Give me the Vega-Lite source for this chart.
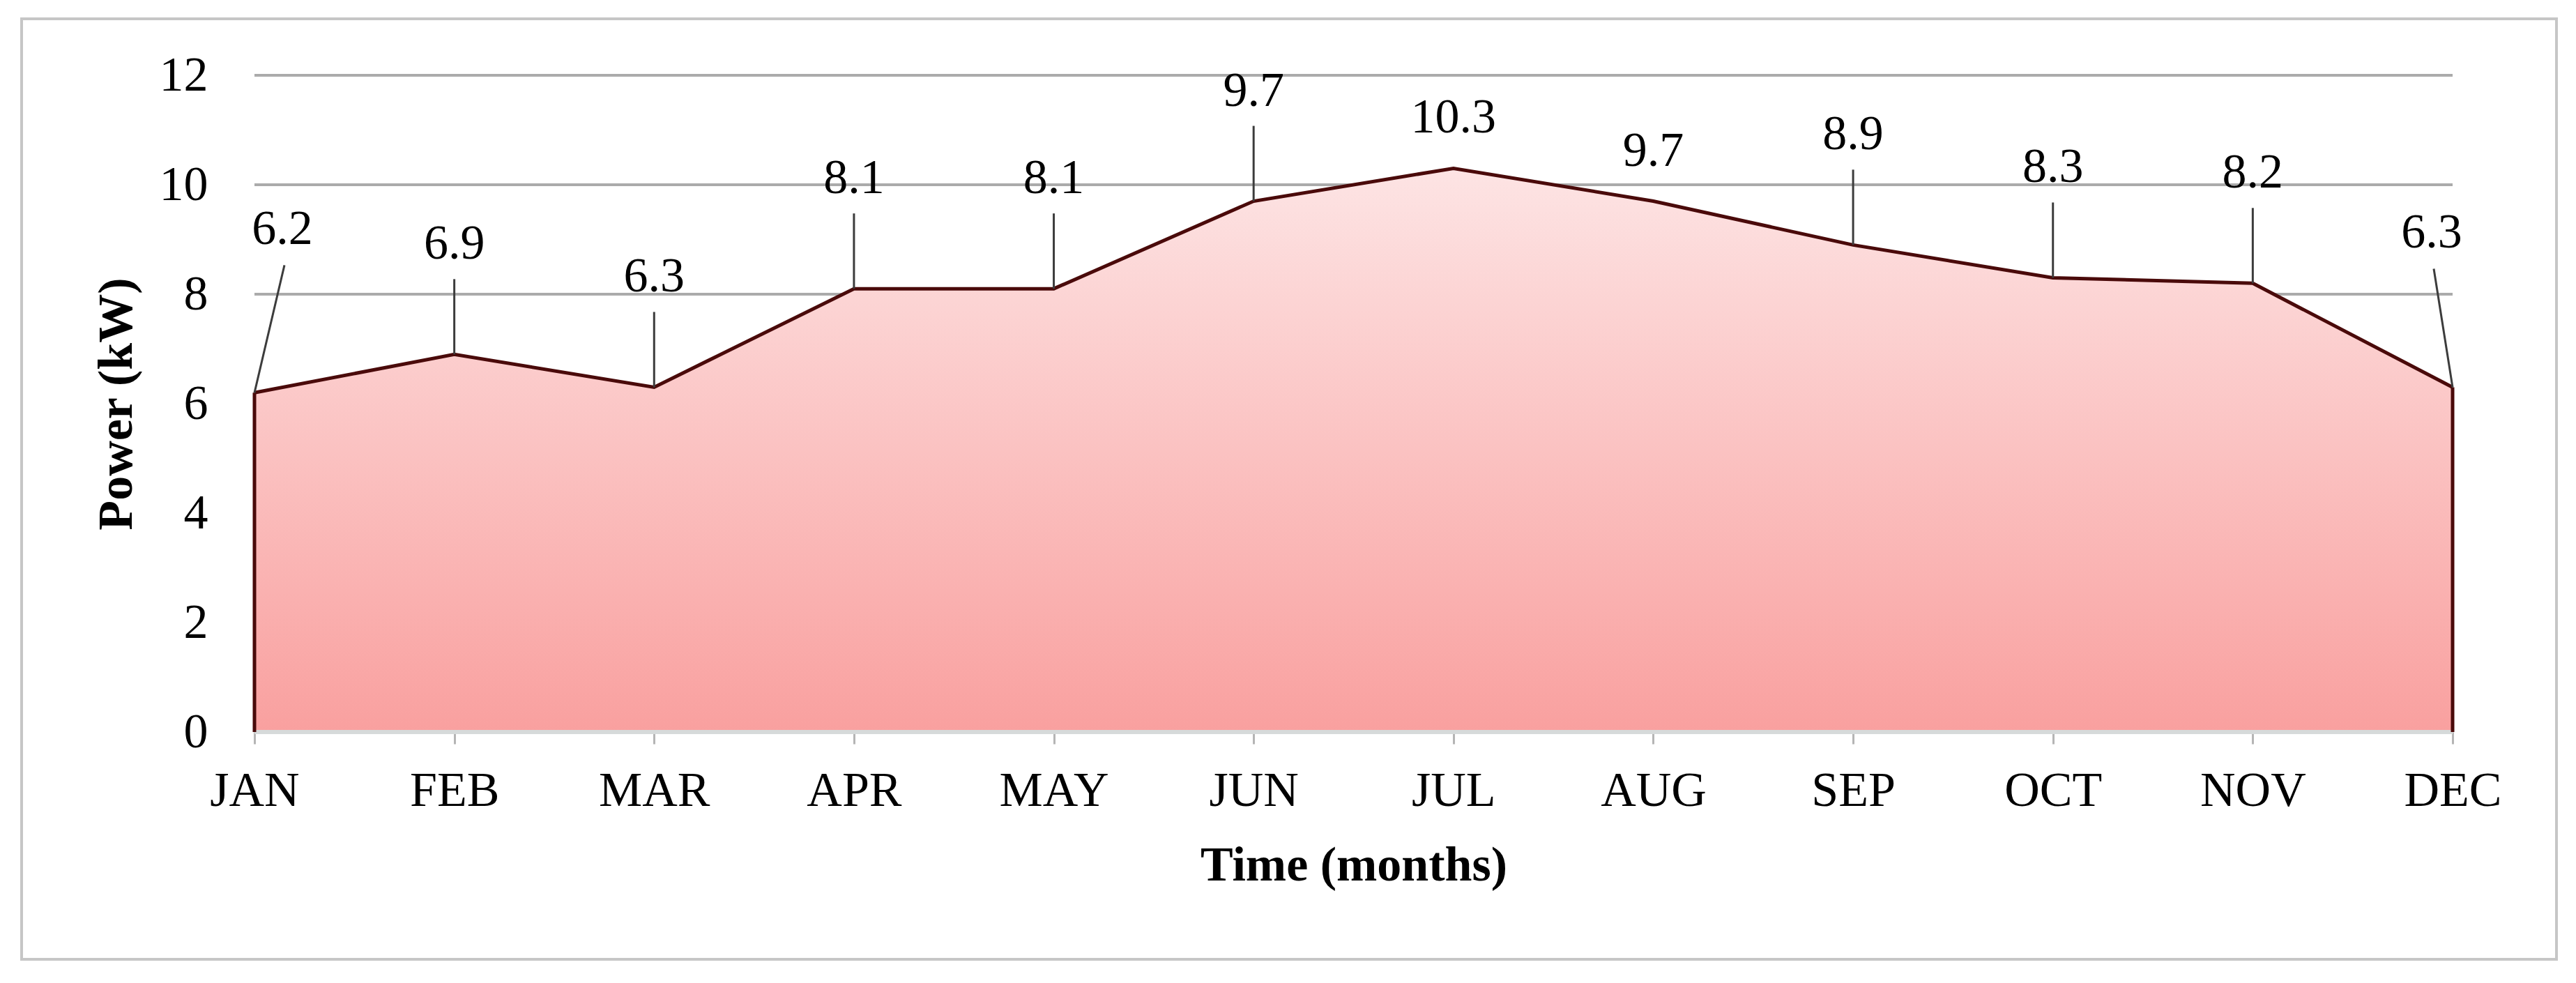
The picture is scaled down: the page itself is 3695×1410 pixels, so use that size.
{
  "$schema": "https://vega.github.io/schema/vega-lite/v6.json",
  "width": 3636,
  "height": 1349,
  "autosize": {"type": "none"},
  "padding": {"left": 31, "top": 27, "right": 28, "bottom": 34},
  "background": "white",
  "config": {
    "view": {"stroke": "#c6c6c6", "strokeWidth": 4},
    "font": "Liberation Serif"
  },
  "datasets": {
    "power": [
      {"month": "JAN", "value": 6.2},
      {"month": "FEB", "value": 6.9},
      {"month": "MAR", "value": 6.3},
      {"month": "APR", "value": 8.1},
      {"month": "MAY", "value": 8.1},
      {"month": "JUN", "value": 9.7},
      {"month": "JUL", "value": 10.3},
      {"month": "AUG", "value": 9.7},
      {"month": "SEP", "value": 8.9},
      {"month": "OCT", "value": 8.3},
      {"month": "NOV", "value": 8.2},
      {"month": "DEC", "value": 6.3}
    ],
    "grid": [{"g": 2}, {"g": 4}, {"g": 6}, {"g": 8}, {"g": 10}, {"g": 12}]
  },
  "data": {"name": "power"},
  "encoding": {
    "x": {
      "field": "month",
      "type": "nominal",
      "sort": null,
      "title": "Time (months)",
      "scale": {
        "type": "point",
        "domain": ["JAN", "FEB", "MAR", "APR", "MAY", "JUN", "JUL", "AUG", "SEP", "OCT", "NOV", "DEC"],
        "range": [334, 3487],
        "padding": 0
      },
      "axis": {
        "orient": "bottom",
        "offset": -326,
        "domain": false,
        "grid": false,
        "ticks": true,
        "tickSize": 17,
        "tickColor": "#b5b5b5",
        "tickWidth": 3,
        "labelFont": "Liberation Serif",
        "labelFontSize": 70,
        "labelColor": "#000000",
        "labelPadding": 33,
        "labelAngle": 0,
        "titleFont": "Liberation Serif",
        "titleFontSize": 70,
        "titleFontWeight": "bold",
        "titleColor": "#000000",
        "titlePadding": 38
      }
    },
    "y": {
      "field": "value",
      "type": "quantitative",
      "title": "Power (kW)",
      "scale": {"domain": [0, 12], "range": [1023, 81], "nice": false, "zero": true},
      "axis": {
        "orient": "left",
        "offset": -334,
        "domain": false,
        "grid": false,
        "ticks": false,
        "values": [0, 2, 4, 6, 8, 10, 12],
        "labelFont": "Liberation Serif",
        "labelFontSize": 70,
        "labelColor": "#000000",
        "labelPadding": 67,
        "titleFont": "Liberation Serif",
        "titleFontSize": 70,
        "titleFontWeight": "bold",
        "titleColor": "#000000",
        "titlePadding": 25
      }
    }
  },
  "layer": [
    {
      "data": {"name": "grid"},
      "mark": {"type": "rule", "color": "#ababab", "strokeWidth": 4},
      "encoding": {
        "x": {"datum": "JAN"},
        "x2": {"datum": "DEC"},
        "y": {"field": "g", "type": "quantitative", "title": "Power (kW)"}
      }
    },
    {
      "mark": {
        "type": "area",
        "color": {
          "gradient": "linear",
          "x1": 0, "y1": 0, "x2": 0, "y2": 1,
          "stops": [
            {"offset": 0, "color": "#fde4e4"},
            {"offset": 1, "color": "#f9a09f"}
          ]
        },
        "opacity": 1
      }
    },
    {
      "mark": {"type": "rule", "color": "#d6dada", "strokeWidth": 5},
      "encoding": {
        "x": {"datum": "JAN"},
        "x2": {"datum": "DEC"},
        "y": {"datum": 0}
      }
    },
    {
      "mark": {"type": "line", "color": "#4a0a0a", "strokeWidth": 5}
    },
    {
      "transform": [{"filter": {"field": "month", "oneOf": ["JAN", "DEC"]}}],
      "mark": {"type": "rule", "color": "#4a0a0a", "strokeWidth": 5},
      "encoding": {
        "y2": {"datum": 0}
      }
    },
    {
      "transform": [{"filter": {"field": "month", "oneOf": ["FEB", "MAR", "APR", "MAY", "JUN", "SEP", "OCT", "NOV"]}}],
      "mark": {"type": "rule", "color": "#3c3c3c", "strokeWidth": 3, "y2Offset": -108},
      "encoding": {
        "y2": {"field": "value"}
      }
    },
    {
      "transform": [{"filter": {"field": "month", "oneOf": ["FEB", "MAR", "APR", "MAY", "JUN", "SEP", "OCT", "NOV"]}}],
      "mark": {"type": "text", "font": "Liberation Serif", "fontSize": 70, "color": "#000000", "baseline": "middle", "align": "center", "dy": -158},
      "encoding": {
        "text": {"field": "value", "type": "quantitative", "format": ".1f"}
      }
    },
    {
      "transform": [{"filter": {"field": "month", "oneOf": ["JUL", "AUG"]}}],
      "mark": {"type": "text", "font": "Liberation Serif", "fontSize": 70, "color": "#000000", "baseline": "middle", "align": "center", "dy": -72},
      "encoding": {
        "text": {"field": "value", "type": "quantitative", "format": ".1f"}
      }
    },
    {
      "transform": [{"filter": {"field": "month", "equal": "JAN"}}],
      "mark": {"type": "rule", "color": "#3c3c3c", "strokeWidth": 3, "x2Offset": 43, "y2Offset": -183},
      "encoding": {
        "x2": {"field": "month"},
        "y2": {"field": "value"}
      }
    },
    {
      "transform": [{"filter": {"field": "month", "equal": "JAN"}}],
      "mark": {"type": "text", "font": "Liberation Serif", "fontSize": 70, "color": "#000000", "baseline": "middle", "align": "center", "dx": 40, "dy": -234},
      "encoding": {
        "text": {"field": "value", "type": "quantitative", "format": ".1f"}
      }
    },
    {
      "transform": [{"filter": {"field": "month", "equal": "DEC"}}],
      "mark": {"type": "rule", "color": "#3c3c3c", "strokeWidth": 3, "x2Offset": -27, "y2Offset": -170},
      "encoding": {
        "x2": {"field": "month"},
        "y2": {"field": "value"}
      }
    },
    {
      "transform": [{"filter": {"field": "month", "equal": "DEC"}}],
      "mark": {"type": "text", "font": "Liberation Serif", "fontSize": 70, "color": "#000000", "baseline": "middle", "align": "center", "dx": -30, "dy": -221},
      "encoding": {
        "text": {"field": "value", "type": "quantitative", "format": ".1f"}
      }
    }
  ]
}
